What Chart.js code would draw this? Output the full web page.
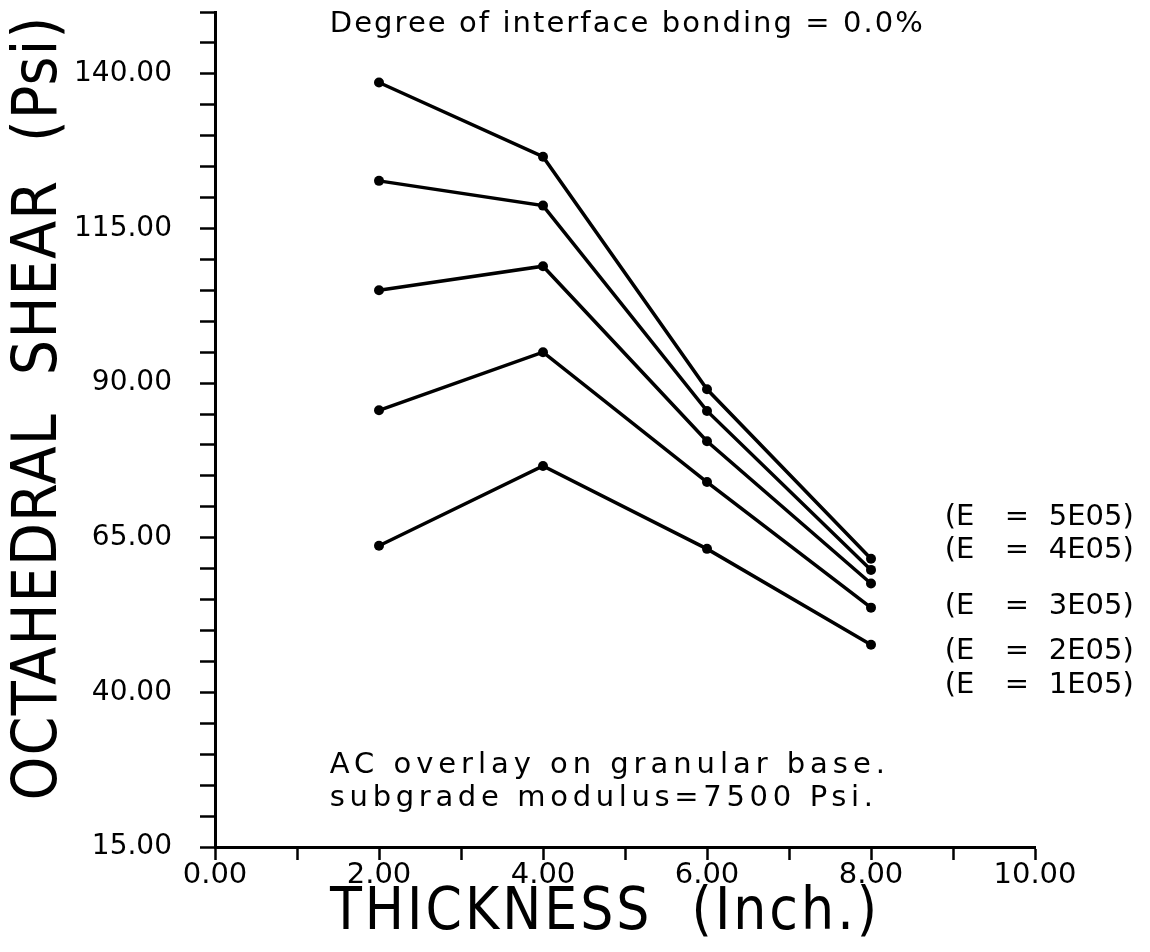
<!DOCTYPE html>
<html>
<head>
<meta charset="utf-8">
<title>Octahedral shear vs thickness</title>
<script src="https://cdn.jsdelivr.net/npm/chart.js@4"></script>
<style>
  html, body { margin: 0; padding: 0; background: #fff; }
  #wrap { width: 1150px; height: 952px; position: relative; }
</style>
</head>
<body>
<div id="wrap"><canvas id="chart"></canvas></div>
<script>
// ── Data ───────────────────────────────────────────────────
const thickness = [2, 4, 6, 8];
const shearE5 = [138.6, 126.6, 89.0, 61.6];
const shearE4 = [122.7, 118.7, 85.5, 59.8];
const shearE3 = [105.0, 108.9, 80.6, 57.6];
const shearE2 = [85.6, 95.0, 74.0, 53.7];
const shearE1 = [63.7, 76.6, 63.2, 47.7];
const seriesLabels = ['(E = 5E05)', '(E = 4E05)', '(E = 3E05)', '(E = 2E05)', '(E = 1E05)'];
const xTickLabels = ['0.00', '2.00', '4.00', '6.00', '8.00', '10.00'];
const yTickLabels = ['15.00', '40.00', '65.00', '90.00', '115.00', '140.00'];
const xTitle = 'THICKNESS  (Inch.)';
const yTitle = 'OCTAHEDRAL  SHEAR  (Psi)';

const INK = '#000';
const PLOT_FONT = "'DejaVu Sans', sans-serif";
const TITLE_FONT = "'Liberation Sans Narrow', 'DejaVu Sans Condensed', sans-serif";

const allSeries = [shearE5, shearE4, shearE3, shearE2, shearE1];

// ── Text annotations, placed in data units ─────────────────
const notes = [
  { text: 'Degree of interface bonding = 0.0%', x: 1.40, y: 148.0, width: 595 },
  { text: 'AC overlay on granular base.', x: 1.40, y: 28.2, width: 560 },
  { text: 'subgrade modulus=7500 Psi.', x: 1.40, y: 22.9, width: 548 }
];
const labelY = [68.2, 62.9, 53.9, 46.6, 41.1];

// fill text stretched to a given width with letter spacing
function spreadText(ctx, text, x, y, width) {
  const w = ctx.measureText(text).width;
  ctx.letterSpacing = Math.max(0, (width - w) / text.length).toFixed(2) + 'px';
  ctx.fillText(text, x, y);
  ctx.letterSpacing = '0px';
}

const annotate = {
  id: 'annotate',
  afterDraw(chart) {
    const { ctx, scales: { x, y } } = chart;
    ctx.save();
    ctx.fillStyle = INK;
    ctx.textBaseline = 'middle';
    ctx.textAlign = 'left';
    ctx.font = `29px ${PLOT_FONT}`;
    notes.forEach(n => spreadText(ctx, n.text, x.getPixelForValue(n.x), y.getPixelForValue(n.y), n.width));

    ctx.font = `29px ${PLOT_FONT}`;
    seriesLabels.forEach((t, i) => {
      const parts = t.split(' ');
      const x0 = x.getPixelForValue(8.9);
      const yy = y.getPixelForValue(labelY[i]);
      ctx.fillText(parts[0], x0, yy);
      ctx.fillText(parts[1], x0 + 60, yy);
      ctx.fillText(parts[2], x0 + 104, yy);
    });

    // axis titles
    ctx.font = `58px ${TITLE_FONT}`;
    const xw = 550;
    spreadText(ctx, xTitle, (x.left + x.right) / 2 - 20 - xw / 2, 914, xw);

    ctx.translate(40, 408);
    ctx.rotate(-Math.PI / 2);
    ctx.font = `62px ${TITLE_FONT}`;
    const yw = 785;
    spreadText(ctx, yTitle, -yw / 2, 0, yw);
    ctx.restore();
  }
};

const mkSet = (data, i) => ({
  label: seriesLabels[i],
  data: data.map((v, k) => ({ x: thickness[k], y: v })),
  borderColor: INK,
  backgroundColor: INK,
  borderWidth: 3.5,
  pointRadius: 5,
  pointBackgroundColor: INK,
  pointBorderWidth: 0,
  tension: 0,
  fill: false
});

new Chart(document.getElementById('chart'), {
  type: 'line',
  data: { datasets: allSeries.map(mkSet) },
  plugins: [annotate],
  options: {
    responsive: true,
    maintainAspectRatio: false,
    animation: false,
    layout: { padding: { top: 12, right: 115, left: 0, bottom: 0 } },
    plugins: { legend: { display: false }, tooltip: { enabled: false } },
    scales: {
      x: {
        type: 'linear',
        min: 0, max: 10,
        afterFit: s => { s.height = 105; s.paddingLeft = 0; s.paddingRight = 0; },
        grid: { drawOnChartArea: false, drawTicks: true, tickLength: 13, tickColor: INK, tickWidth: 2.5 },
        border: { display: true, color: INK, width: 3 },
        ticks: {
          stepSize: 1, autoSkip: false, maxRotation: 0, padding: -2,
          color: INK, font: { family: PLOT_FONT, size: 29 },
          callback: v => (v % 2 === 0 ? xTickLabels[v / 2] : '')
        }
      },
      y: {
        type: 'linear',
        min: 15, max: 150,
        afterFit: s => { s.width = 215; s.paddingTop = 0; s.paddingBottom = 0; },
        grid: { drawOnChartArea: false, drawTicks: true, tickLength: 15, tickColor: INK, tickWidth: 2.5 },
        border: { display: true, color: INK, width: 3 },
        ticks: {
          stepSize: 5, autoSkip: false, padding: 28,
          color: INK, font: { family: PLOT_FONT, size: 28 },
          callback: v => ((v - 15) % 25 === 0 ? yTickLabels[(v - 15) / 25] : '')
        }
      }
    }
  }
});
</script>
</body>
</html>
